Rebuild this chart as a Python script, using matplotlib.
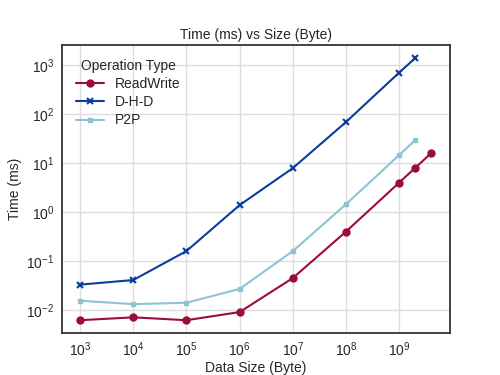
import matplotlib
matplotlib.use("Agg")
import matplotlib.pyplot as plt
from matplotlib.ticker import FixedLocator
import seaborn as sns

sns.set_style("whitegrid")
plt.rcParams['font.family'] = ['Liberation Sans', 'DejaVu Sans']
plt.rcParams['mathtext.fontset'] = 'custom'
plt.rcParams['mathtext.rm'] = 'Liberation Sans'
plt.rcParams['mathtext.it'] = 'Liberation Sans:italic'
plt.rcParams['mathtext.default'] = 'regular'
plt.rcParams['text.color'] = '#262626'
plt.rcParams['axes.labelcolor'] = '#262626'
plt.rcParams['xtick.color'] = '#262626'
plt.rcParams['ytick.color'] = '#262626'

# tailles en octets
size_rw = [1e3, 1e4, 1e5, 1e6, 1e7, 1e8, 1e9, 2e9, 4e9]
time_rw = [0.0062, 0.0071, 0.0062, 0.0091, 0.045, 0.40, 4.0, 8.0, 16.0]

size_dhd = [1e3, 1e4, 1e5, 1e6, 1e7, 1e8, 1e9, 2e9]
time_dhd = [0.033, 0.041, 0.16, 1.39, 7.9, 69, 705, 1390]

size_p2p = [1e3, 1e4, 1e5, 1e6, 1e7, 1e8, 1e9, 2e9]
time_p2p = [0.0155, 0.0132, 0.0141, 0.027, 0.16, 1.45, 14.6, 29.5]

xticks = [1e3, 1e4, 1e5, 1e6, 1e7, 1e8, 1e9]
yticks = [1e-2, 1e-1, 1e0, 1e1, 1e2, 1e3]

fig = plt.figure(figsize=(5, 3.75), dpi=100)
ax = fig.add_axes([0.124, 0.112, 0.776, 0.768])

ax.plot(size_rw, time_rw, color='#9b0b3b', marker='o', markersize=5, lw=1.5, label='ReadWrite')
ax.plot(size_dhd, time_dhd, color='#0a3d9e', marker='x', markersize=4, mew=1.5, lw=1.5, label='D-H-D')
ax.plot(size_p2p, time_p2p, color='#8ec3d5', marker='s', markersize=3.5, lw=1.5, label='P2P')

ax.set_xscale('log')
ax.set_yscale('log')
ax.set_xlim(457, 9.0e9)
ax.set_ylim(0.0034, 2570)
ax.xaxis.set_major_locator(FixedLocator(xticks))
ax.yaxis.set_major_locator(FixedLocator(yticks))
ax.minorticks_off()

for s in ax.spines.values():
    s.set_color('#333333')
    s.set_linewidth(1.3)
ax.grid(True, color='#dddddd', lw=1)

ax.set_xlabel('Data Size (Byte)', fontsize=10, labelpad=1)
ax.set_ylabel('Time (ms)', fontsize=10, labelpad=3)
ax.set_title('Time (ms) vs Size (Byte)', fontsize=10, pad=4)
ax.tick_params(labelsize=10, pad=2)

ax.legend(title='Operation Type', loc='upper left', frameon=False, fontsize=10,
          title_fontsize=10, labelspacing=0.3, borderaxespad=0.6)

fig.savefig('out.png', dpi=100)
